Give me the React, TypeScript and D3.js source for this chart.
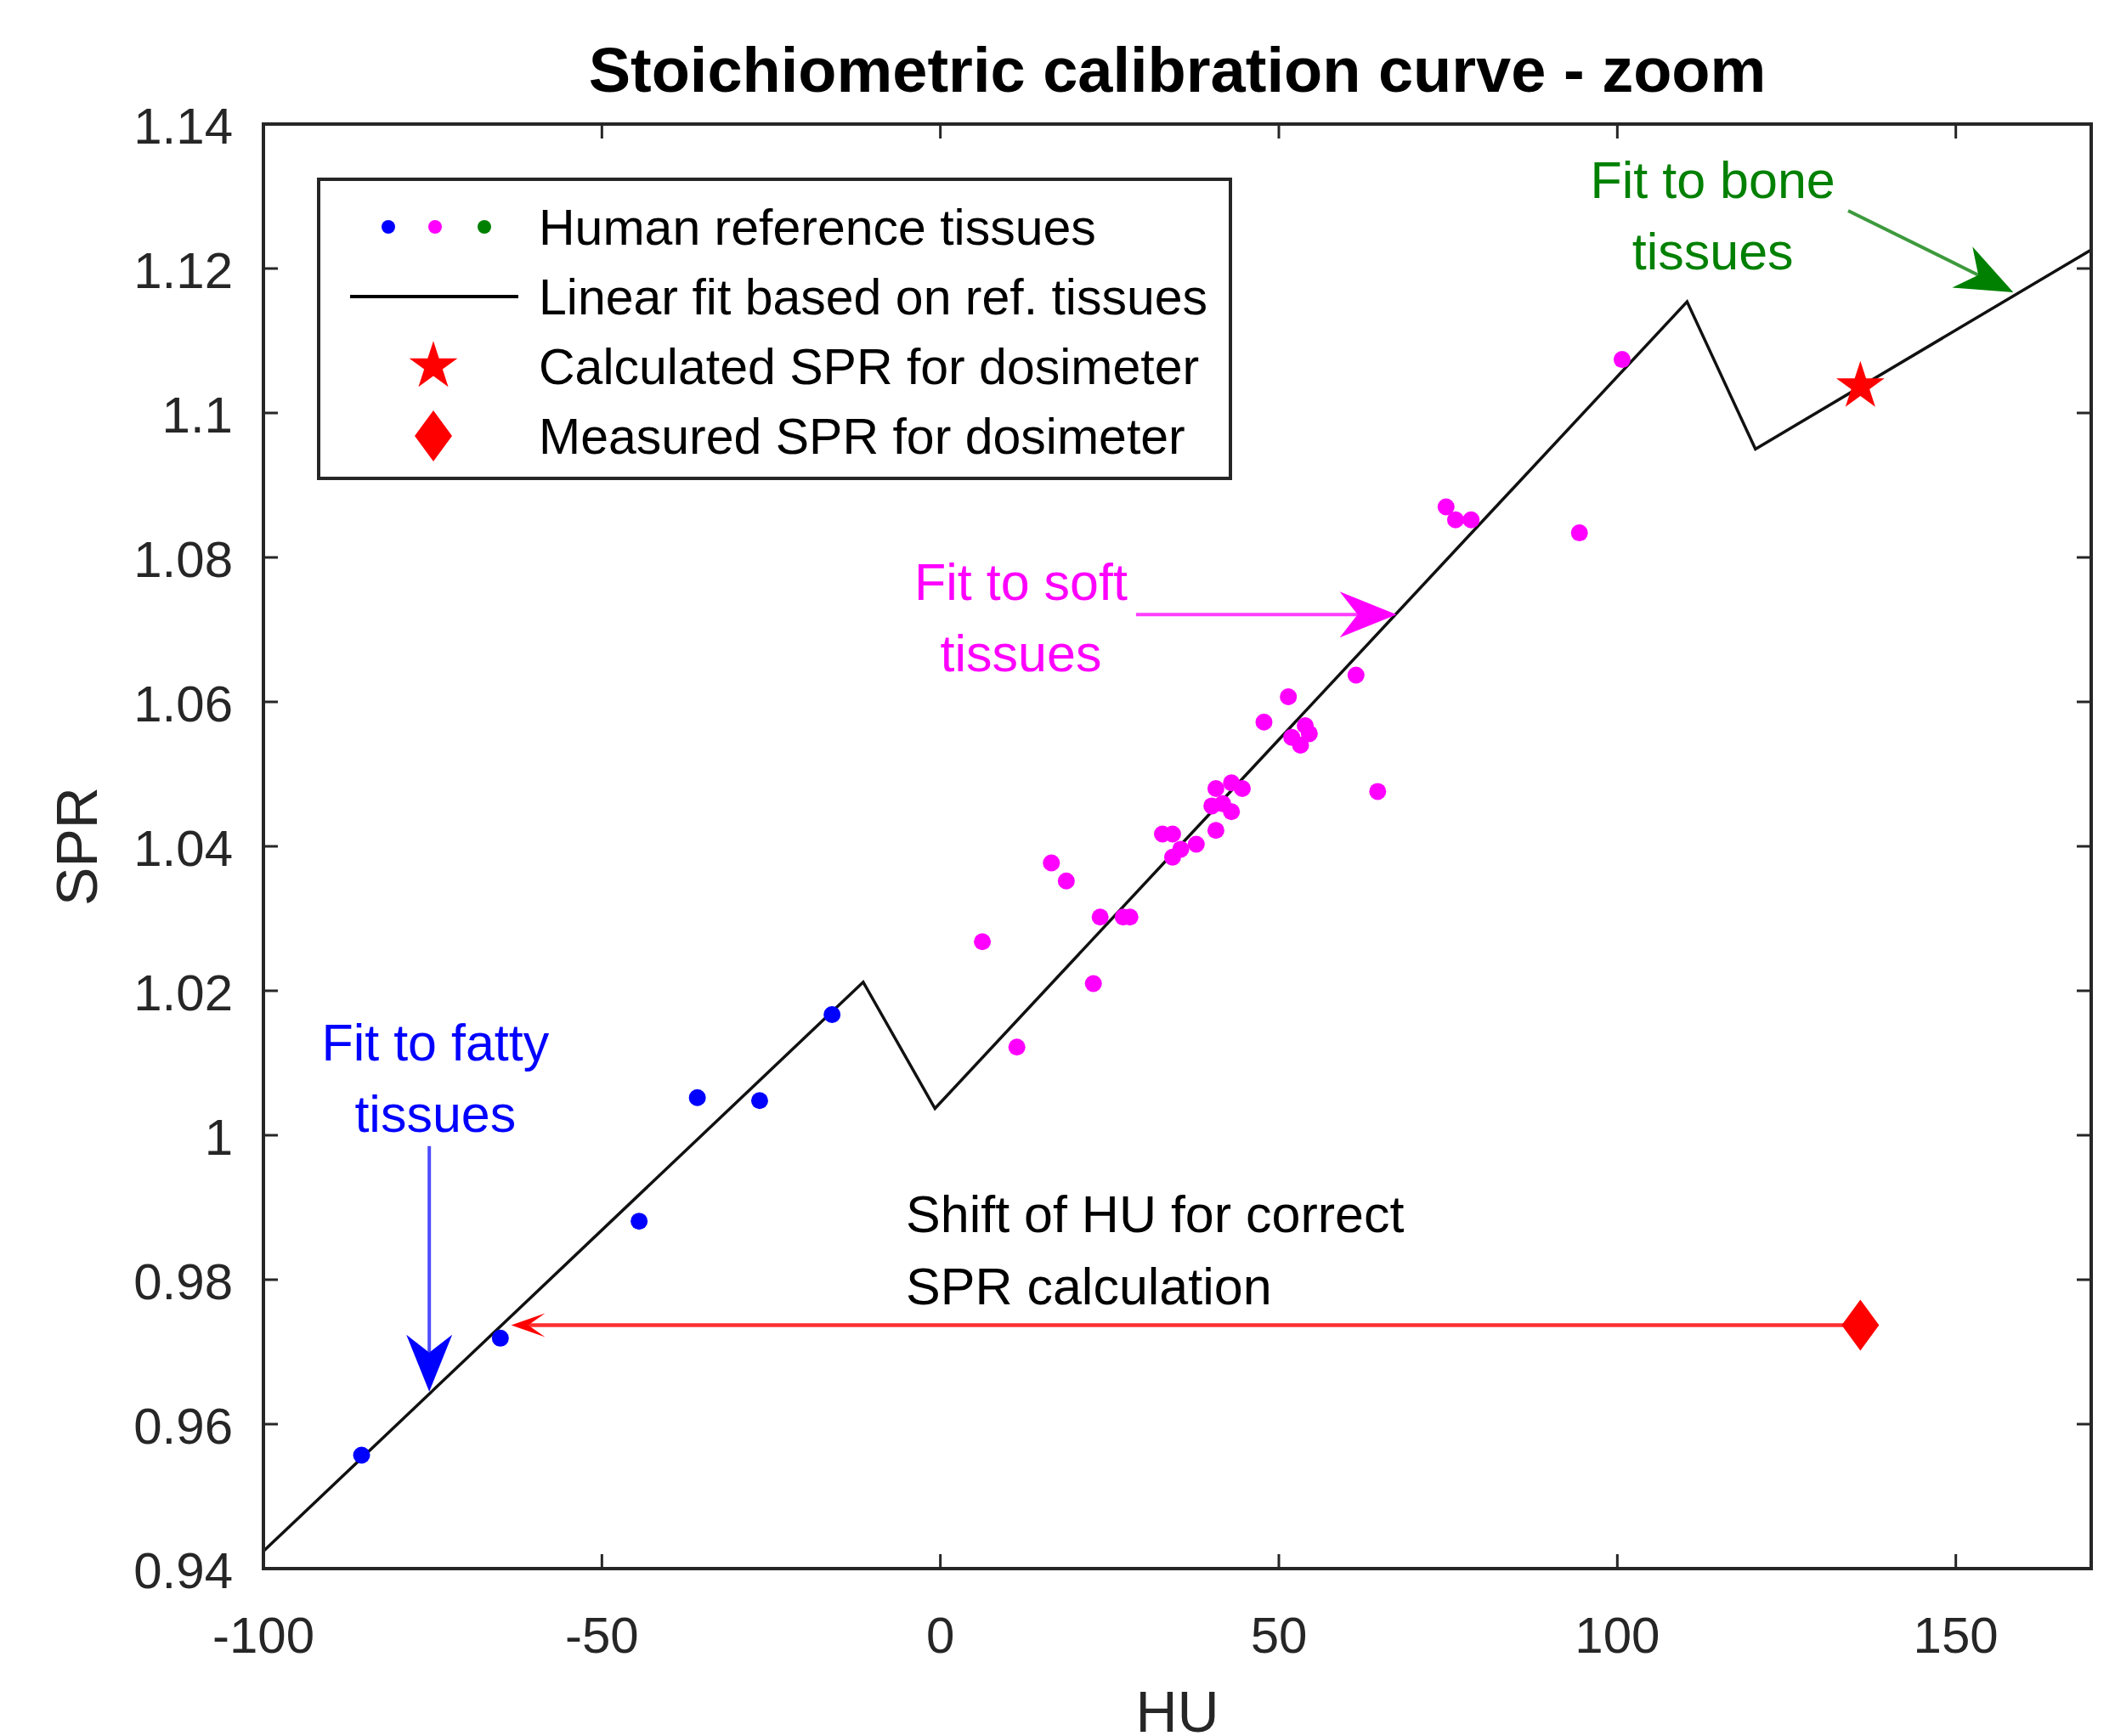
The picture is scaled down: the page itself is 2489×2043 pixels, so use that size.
import React from "react";
import * as d3 from "d3";

// human reference tissues
const fattyHU = [-85.5, -65.0, -44.5, -35.9, -26.7, -16.0];
const fattySPR = [0.9557, 0.9719, 0.9881, 1.0052, 1.0048, 1.0167];

const softHU = [
  6.2, 11.3, 16.4, 18.6, 22.6, 23.6, 27.0, 28.0, 32.8, 34.3, 34.3, 35.5, 37.8,
  40.7, 40.7, 43.0, 44.6, 41.7, 43.0, 40.1, 47.8, 51.4, 51.9, 53.9, 53.2, 54.5,
  61.4, 64.6, 74.7, 76.1, 78.4, 94.4, 100.7,
];
const softSPR = [
  1.0268, 1.0122, 1.0377, 1.0352, 1.021, 1.0302, 1.0302, 1.0302, 1.0417, 1.0417,
  1.0385, 1.0396, 1.0403, 1.0422, 1.048, 1.0488, 1.048, 1.0459, 1.0448, 1.0456,
  1.0572, 1.0607, 1.0551, 1.0567, 1.054, 1.0556, 1.0637, 1.0476, 1.087, 1.0852,
  1.0852, 1.0834, 1.1074,
];

// piecewise linear fit (fatty / soft / bone)
const fitHU = [-100, -11.4, -0.8, 110.3, 120.4, 170];
const fitSPR = [0.9424, 1.0212, 1.0037, 1.1154, 1.095, 1.1226];

const calcHU = 135.9;
const calcSPR = 1.1037;
const measHU = 135.9;
const measSPR = 0.9737;
const shiftTipHU = -63.4;

const xTicks = [-100, -50, 0, 50, 100, 150];
const xTickLabels = ["-100", "-50", "0", "50", "100", "150"];
const yTicks = [0.94, 0.96, 0.98, 1.0, 1.02, 1.04, 1.06, 1.08, 1.1, 1.12, 1.14];
const yTickLabels = ["0.94", "0.96", "0.98", "1", "1.02", "1.04", "1.06", "1.08", "1.1", "1.12", "1.14"];

const legendLabels = [
  "Human reference tissues",
  "Linear fit based on ref. tissues",
  "Calculated SPR for dosimeter",
  "Measured SPR for dosimeter",
];

const BLUE = "#0000ff";
const MAGENTA = "#ff00ff";
const GREEN = "#008000";
const RED = "#ff0000";
const AXIS = "#262626";
const FONT = "'Liberation Sans', Arial, Helvetica, sans-serif";

// text arrows: text anchor point, arrow from -> to (all in data units)
const notes = [
  { lines: ["Fit to fatty", "tissues"], hu: -74.6, spr: 1.0104, color: BLUE, line: "#4d4dff", from: [-75.5, 0.9985], to: [-75.5, 0.9645] },
  { lines: ["Fit to soft", "tissues"], hu: 11.9, spr: 1.0741, color: MAGENTA, line: "#ff3dff", from: [28.9, 1.0721], to: [67.4, 1.0721] },
  { lines: ["Fit to bone", "tissues"], hu: 114.1, spr: 1.1298, color: GREEN, line: "#3d9a3d", from: [134.1, 1.128], to: [158.5, 1.1167] },
];

const width = 2489;
const height = 2043;
const left = 310;
const right = 2461;
const top = 146;
const bottom = 1846;

const x = d3.scaleLinear().domain([-100, 170]).range([left, right]);
const y = d3.scaleLinear().domain([0.94, 1.14]).range([bottom, top]);

const arrowHead = (x0, y0, x1, y1, len, half, notch) => {
  const dx = x1 - x0;
  const dy = y1 - y0;
  const d = Math.sqrt(dx * dx + dy * dy);
  const ux = dx / d, uy = dy / d;
  const nx = -uy, ny = ux;
  const bx = x1 - ux * len, by = y1 - uy * len;
  const mx = x1 - ux * (len - notch), my = y1 - uy * (len - notch);
  return {
    path: `M${x1},${y1}L${bx + nx * half},${by + ny * half}L${mx},${my}L${bx - nx * half},${by - ny * half}Z`,
    mx, my,
  };
};

const diamond = (cx, cy, w, h) => `M${cx},${cy - h}L${cx + w},${cy}L${cx},${cy + h}L${cx - w},${cy}Z`;

const star = d3.symbol().type(d3.symbolStar).size(1000);

const App = () => {
  const fitLine = d3.line().x(d => x(d[0])).y(d => y(d[1]));
  const fitPts = fitHU.map((h, i) => [h, fitSPR[i]]);

  const redHead = arrowHead(x(measHU), y(measSPR), x(shiftTipHU), y(measSPR), 40, 14, 20);

  const lgX = left + 65;
  const lgY = top + 65;
  const rowY = i => lgY + 56 + i * 82;

  return (
    <svg width={width} height={height} style={{ position: "absolute", left: 0, top: 0 }} fontFamily={FONT}>
      <rect width={width} height={height} fill="#fff" />

      {/* title */}
      <text x={(left + right) / 2} y={108} textAnchor="middle" fontSize={74} fontWeight="bold" fill="#000">
        Stoichiometric calibration curve - zoom
      </text>

      {/* fit line */}
      <path d={fitLine(fitPts)} fill="none" stroke="#111" strokeWidth={3.5} />

      {/* points */}
      {fattyHU.map((h, i) => (
        <circle key={"f" + i} cx={x(h)} cy={y(fattySPR[i])} r={10} fill={BLUE} />
      ))}
      {softHU.map((h, i) => (
        <circle key={"s" + i} cx={x(h)} cy={y(softSPR[i])} r={10} fill={MAGENTA} />
      ))}

      {/* calculated + measured */}
      <path d={star()} transform={`translate(${x(calcHU)},${y(calcSPR)})`} fill={RED} />
      <line x1={x(measHU)} y1={y(measSPR)} x2={redHead.mx} y2={redHead.my} stroke="#ff3030" strokeWidth={4.5} />
      <path d={redHead.path} fill={RED} />
      <path d={diamond(x(measHU), y(measSPR), 22, 30)} fill={RED} />

      {/* annotations */}
      {notes.map((n, i) => {
        const x0 = x(n.from[0]), y0 = y(n.from[1]);
        const x1 = x(n.to[0]), y1 = y(n.to[1]);
        const head = arrowHead(x0, y0, x1, y1, 67, 27, 21);
        return (
          <g key={"n" + i}>
            {n.lines.map((t, j) => (
              <text key={j} x={x(n.hu)} y={y(n.spr) + j * 84} textAnchor="middle" fontSize={61} fill={n.color}>
                {t}
              </text>
            ))}
            <line x1={x0} y1={y0} x2={head.mx} y2={head.my} stroke={n.line} strokeWidth={4} />
            <path d={head.path} fill={n.color} />
          </g>
        );
      })}
      <text x={x(-5.1)} y={y(0.9866)} fontSize={61} fill="#000">Shift of HU for correct</text>
      <text x={x(-5.1)} y={y(0.9866) + 85} fontSize={61} fill="#000">SPR calculation</text>

      {/* axes box */}
      <rect x={left} y={top} width={right - left} height={bottom - top} fill="none" stroke={AXIS} strokeWidth={4} />
      {xTicks.map((t, i) => (
        <g key={"xt" + i}>
          <line x1={x(t)} x2={x(t)} y1={bottom} y2={bottom - 17} stroke={AXIS} strokeWidth={3} />
          <line x1={x(t)} x2={x(t)} y1={top} y2={top + 17} stroke={AXIS} strokeWidth={3} />
          <text x={x(t)} y={bottom + 99} textAnchor="middle" fontSize={60} fill={AXIS}>
            {xTickLabels[i]}
          </text>
        </g>
      ))}
      {yTicks.map((t, i) => (
        <g key={"yt" + i}>
          <line x1={left} x2={left + 17} y1={y(t)} y2={y(t)} stroke={AXIS} strokeWidth={3} />
          <line x1={right} x2={right - 17} y1={y(t)} y2={y(t)} stroke={AXIS} strokeWidth={3} />
          <text x={left - 36} y={y(t) + 23} textAnchor="end" fontSize={60} fill={AXIS}>
            {yTickLabels[i]}
          </text>
        </g>
      ))}

      {/* axis labels */}
      <text x={(left + right) / 2} y={2038} textAnchor="middle" fontSize={68} fill={AXIS}>HU</text>
      <text transform={`translate(114,${(top + bottom) / 2}) rotate(-90)`} textAnchor="middle" fontSize={68} fill={AXIS}>SPR</text>

      {/* legend */}
      <rect x={lgX} y={lgY} width={1073} height={352} fill="#fff" stroke={AXIS} strokeWidth={4} />
      <circle cx={lgX + 82} cy={rowY(0)} r={8} fill={BLUE} />
      <circle cx={lgX + 137} cy={rowY(0)} r={8} fill={MAGENTA} />
      <circle cx={lgX + 195} cy={rowY(0)} r={8} fill={GREEN} />
      <line x1={lgX + 37} x2={lgX + 235} y1={rowY(1)} y2={rowY(1)} stroke="#000" strokeWidth={4} />
      <path d={star()} transform={`translate(${lgX + 135},${rowY(2)})`} fill={RED} />
      <path d={diamond(lgX + 135, rowY(3), 22, 30)} fill={RED} />
      {legendLabels.map((l, i) => (
        <text key={"lg" + i} x={lgX + 259} y={rowY(i) + 21} fontSize={59} fill="#000">
          {l}
        </text>
      ))}
    </svg>
  );
};

export default App;
